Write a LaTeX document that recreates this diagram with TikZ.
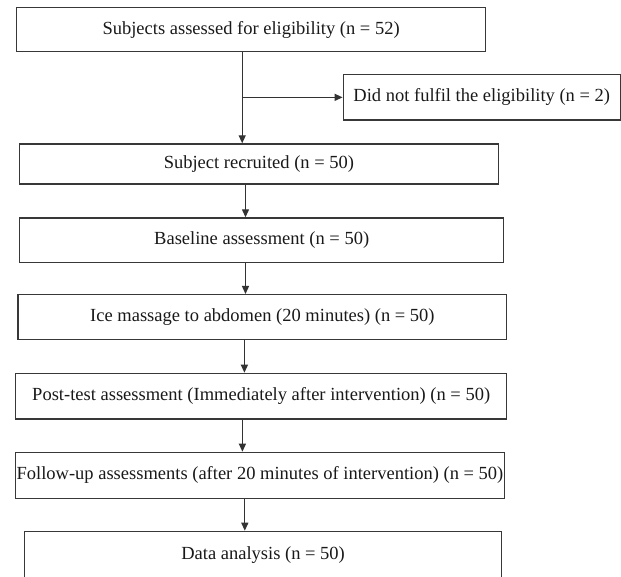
\documentclass[tikz,border=0pt]{standalone}
\usepackage{fontspec}
\setmainfont{Liberation Serif}
\usetikzlibrary{arrows.meta}
\begin{document}
\begin{tikzpicture}[x=1pt,y=-1pt,
  box/.style={draw=black!78, line width=1.4pt, inner sep=0pt, anchor=north west,
    font=\fontsize{18.5}{22}\selectfont, text=black!90},
  arr/.style={draw=black!80, line width=1.3pt, -{Triangle[length=8pt,width=7pt]}}]
\useasboundingbox (0,0) rectangle (621,577);
\clip (0,0) rectangle (621,577);
\node[box, minimum width=469.2pt, minimum height=44.3pt] (b1) at (15.8,6.7) {Subjects assessed for eligibility (n = 52)};
\node[box, minimum width=276.9pt, minimum height=45.3pt] (side) at (342.6,74) {Did not fulfil the eligibility (n = 2)};
\node[box, minimum width=479.2pt, minimum height=40pt] (b2) at (18.6,143.3) {Subject recruited (n = 50)};
\node[box, minimum width=484pt, minimum height=44.4pt] (b3) at (19,217.3) {Baseline assessment (n = 50)};
\node[box, minimum width=488.6pt, minimum height=45pt] (b4) at (17.4,294) {Ice massage to abdomen (20 minutes) (n = 50)};
\node[box, minimum width=491pt, minimum height=45.6pt] (b5) at (15,372.7) {Post-test assessment (Immediately after intervention) (n = 50)};
\node[box, minimum width=489.1pt, minimum height=46pt] (b6) at (14.7,451.7) {Follow-up assessments (after 20 minutes of intervention) (n = 50)};
\node[box, minimum width=477.2pt, minimum height=48pt] (b7) at (23.8,530.7) {Data analysis (n = 50)};
\coordinate (s1) at (242.2,0);
\coordinate (s2) at (245.5,0);
\coordinate (s3) at (245.5,0);
\coordinate (s4) at (244.4,0);
\coordinate (s5) at (242.4,0);
\coordinate (s6) at (244.8,0);
\draw[arr] (b1.south -| s1) -- (b2.north -| s1);
\draw[arr] (s1 |- side.west) -- (side.west);
\draw[arr] (b2.south -| s2) -- (b3.north -| s2);
\draw[arr] (b3.south -| s3) -- (b4.north -| s3);
\draw[arr] (b4.south -| s4) -- (b5.north -| s4);
\draw[arr] (b5.south -| s5) -- (b6.north -| s5);
\draw[arr] (b6.south -| s6) -- (b7.north -| s6);
\end{tikzpicture}
\end{document}
